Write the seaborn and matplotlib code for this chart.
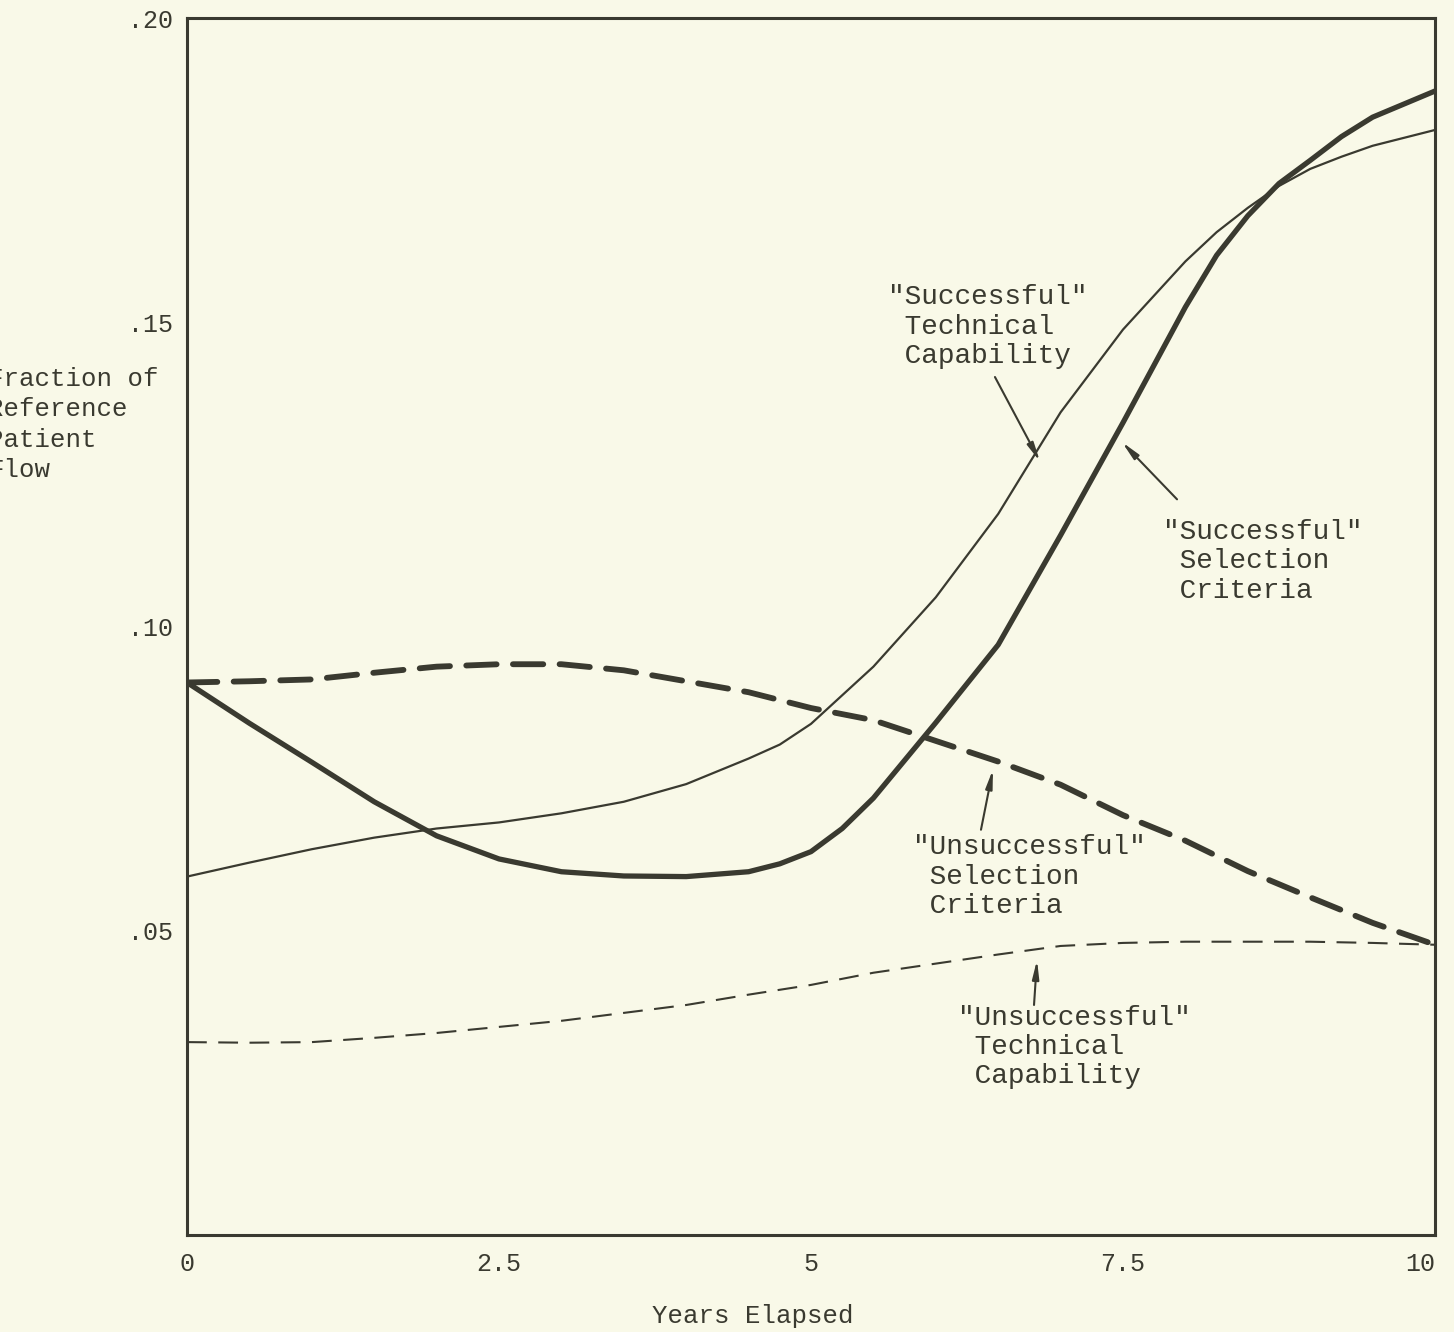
import numpy as np
import pandas as pd
import matplotlib
matplotlib.use("Agg")
import matplotlib.pyplot as plt
import seaborn as sns

# "Successful" technical capability (thin solid)
st_years = [0, 0.5, 1, 1.5, 2, 2.5, 3, 3.5, 4, 4.5, 4.75, 5, 5.5, 6, 6.5, 7, 7.5, 8, 8.25, 8.5,
            8.75, 9, 9.25, 9.5, 10]
st_vals = [0.0589, 0.0612, 0.0634, 0.0653, 0.0668, 0.0678, 0.0693, 0.0712, 0.0741, 0.0783, 0.0806,
           0.0840, 0.0934, 0.1048, 0.1185, 0.1352, 0.1488, 0.1600, 0.1648, 0.1688, 0.1724, 0.1752,
           0.1772, 0.1790, 0.1816]

# "Successful" selection criteria (thick solid)
ss_years = [0, 0.5, 1, 1.5, 2, 2.5, 3, 3.5, 4, 4.5, 4.75, 5, 5.25, 5.5, 6, 6.5, 7, 7.5, 8, 8.25,
            8.5, 8.75, 9, 9.25, 9.5, 10]
ss_vals = [0.0908, 0.0841, 0.0777, 0.0712, 0.0656, 0.0618, 0.0597, 0.0590, 0.0589, 0.0597, 0.0610,
           0.0630, 0.0668, 0.0718, 0.0842, 0.0970, 0.1150, 0.1335, 0.1525, 0.1610, 0.1675, 0.1728,
           0.1766, 0.1805, 0.1837, 0.1880]

# "Unsuccessful" selection criteria (thick dashed)
us_years = [0, 0.5, 1, 1.5, 2, 2.5, 3, 3.5, 4, 4.5, 5, 5.5, 6, 6.5, 7, 7.5, 8, 8.5, 9, 9.5, 10]
us_vals = [0.0908, 0.0910, 0.0913, 0.0924, 0.0934, 0.0938, 0.0938, 0.0928, 0.0910, 0.0892, 0.0866,
           0.0846, 0.0812, 0.0778, 0.0740, 0.0690, 0.0648, 0.0598, 0.0555, 0.0513, 0.0477]

# "Unsuccessful" technical capability (thin dashed)
ut_years = [0, 0.5, 1, 1.5, 2, 2.5, 3, 3.5, 4, 4.5, 5, 5.5, 6, 6.5, 7, 7.5, 8, 8.5, 9, 9.5, 10]
ut_vals = [0.0317, 0.0316, 0.0317, 0.0324, 0.0332, 0.0342, 0.0352, 0.0365, 0.0378, 0.0395, 0.0411,
           0.0431, 0.0446, 0.0461, 0.0475, 0.0480, 0.0482, 0.0482, 0.0482, 0.0480, 0.0477]

x_ticks = [0, 2.5, 5, 7.5, 10]
x_ticklabels = ["0", "2.5", "5", "7.5", "10"]
y_ticks = [0.05, 0.10, 0.15, 0.20]
y_ticklabels = [".05", ".10", ".15", ".20"]

ink = "#3a3a30"
paper = "#f9f9e8"
mono = ["Liberation Mono", "DejaVu Sans Mono"]

sns.set_style("white")
plt.rcParams["font.family"] = mono

fig = plt.figure(figsize=(14.54, 13.32), dpi=100, facecolor=paper)
ax = fig.add_axes([187 / 1454, 1 - 1235 / 1332, (1435 - 187) / 1454, (1235 - 18) / 1332])
ax.set_facecolor(paper)

st = pd.DataFrame({"years": st_years, "val": st_vals})
ss = pd.DataFrame({"years": ss_years, "val": ss_vals})
us = pd.DataFrame({"years": us_years, "val": us_vals})
ut = pd.DataFrame({"years": ut_years, "val": ut_vals})

sns.lineplot(data=st, x="years", y="val", ax=ax, color=ink, lw=1.6, solid_joinstyle="round")
sns.lineplot(data=ss, x="years", y="val", ax=ax, color=ink, lw=3.8, solid_joinstyle="round")
l3 = sns.lineplot(data=us, x="years", y="val", ax=ax, color=ink, lw=4.2).lines[-1]
l3.set_dashes((5.2, 2.8))
l3.set_dash_capstyle("round")
l4 = sns.lineplot(data=ut, x="years", y="val", ax=ax, color=ink, lw=1.5).lines[-1]
l4.set_dashes((9.5, 5.5))

ax.set_xlim(0, 10)
ax.set_ylim(0, 0.20)
ax.set_xticks(x_ticks)
ax.set_xticklabels(x_ticklabels, fontsize=18, color=ink)
ax.get_xticklabels()[-1].set_ha("right")
ax.set_yticks(y_ticks)
ax.set_yticklabels(y_ticklabels, fontsize=18, color=ink)
ax.tick_params(direction="inout", length=12, width=2, color=ink)
ax.tick_params(axis="y", pad=4)
ax.tick_params(axis="x", pad=6)
ax.set_xlabel("")
ax.set_ylabel("")
for s in ax.spines.values():
    s.set_visible(True)
    s.set_color(ink)
    s.set_linewidth(2.2)

# labels of the curves
fs = 20
ax.text(5.617, 0.1493, '"Successful"\n Technical\n Capability', fontsize=fs, color=ink,
        ha="left", va="center", linespacing=1.17)
ax.text(7.821, 0.1107, '"Successful"\n Selection\n Criteria', fontsize=fs, color=ink,
        ha="left", va="center", linespacing=1.17)
ax.text(5.817, 0.0589, '"Unsuccessful"\n Selection\n Criteria', fontsize=fs, color=ink,
        ha="left", va="center", linespacing=1.17)
ax.text(6.178, 0.0309, '"Unsuccessful"\n Technical\n Capability', fontsize=fs, color=ink,
        ha="left", va="center", linespacing=1.17)

arrows = [((6.474, 0.1410), (6.835, 0.1271)),
          ((7.933, 0.1209), (7.492, 0.1303)),
          ((6.362, 0.0666), (6.458, 0.0765)),
          ((6.787, 0.0378), (6.811, 0.0452))]
for start, end in arrows:
    ax.annotate("", xy=end, xytext=start,
                arrowprops=dict(arrowstyle="-|>,head_length=1.1,head_width=0.2", color=ink,
                                lw=1.5, shrinkA=0, shrinkB=0))

# axis titles
fig.text(-12 / 1454, 1 - 424.5 / 1332, "Fraction of\nReference\nPatient\nFlow",
         fontsize=18.5, color=ink, ha="left", va="center", linespacing=1.35)
fig.text(753 / 1454, 1 - 1316 / 1332, "Years Elapsed", fontsize=18.5, color=ink,
         ha="center", va="center")

fig.savefig("out.png", dpi=100, facecolor=paper)
